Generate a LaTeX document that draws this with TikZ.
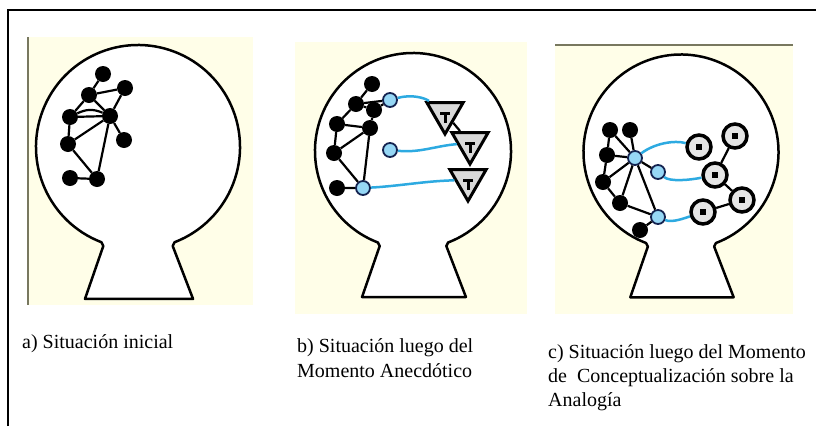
\documentclass[tikz,border=0pt]{standalone}
\usepackage{fontspec}
\setmainfont{Liberation Serif}
\definecolor{cream}{RGB}{255,254,232}
\definecolor{linkblue}{RGB}{45,170,225}
\definecolor{ballblue}{RGB}{150,215,245}
\definecolor{inkblue}{RGB}{20,35,80}
\definecolor{edgegray}{RGB}{120,120,95}
\usepackage{tikz}
\usetikzlibrary{positioning}
\usetikzlibrary{shapes}
\tikzset{
  bulb/.style={draw, line width=2.5pt, fill=white, line join=round},
  dot/.style={circle, fill=black, inner sep=0, minimum size=16pt},
  ball/.style={circle, draw=inkblue, fill=ballblue, line width=1.8pt,
    inner sep=0, minimum size=14pt},
  tri/.style={regular polygon, regular polygon sides=3, shape border rotate=180,
    draw, line width=3pt, fill=gray!30, inner sep=0, minimum size=42pt,
    path picture={
      \fill[black] ([shift={(-5pt,3pt)}]path picture bounding box.center) rectangle ++(10pt,3pt);
      \fill[black] ([shift={(-1.5pt,-5pt)}]path picture bounding box.center) rectangle ++(3pt,8pt);
    }},
  ring/.style={circle, draw, line width=3.5pt, fill=gray!20, inner sep=0, minimum size=24pt,
    path picture={
      \fill[black] ([shift={(-3pt,-3pt)}]path picture bounding box.center) rectangle ++(6pt,6pt);
    }},
  link/.style={line width=2.2pt},
  bluelink/.style={line width=2.5pt, linkblue},
  caption/.style={anchor=base west, inner sep=0, align=left,
    font=\fontsize{20}{25}\selectfont}
}
\newcommand\bulbat[3]{%
  \begin{scope}[shift={(#1,#2)}, scale=#3]
    \draw[bulb] (111:100) arc[start angle=111, end angle=429, radius=100]
      -- (34,97) -- (54,149) -- (-52,149) -- (-34,97) -- cycle;
  \end{scope}}

\begin{document}
\begin{tikzpicture}[x=1pt, y=-1pt]
  \useasboundingbox (0,0) rectangle (816,426);
  \draw[line width=1.5pt] (8,426) -- (8,10) -- (816,10);

  \fill[cream] (28,37) rectangle (253,305);
  \fill[cream] (295,42) rectangle (527,314);
  \fill[cream] (555,45) rectangle (793,314);
  \draw[edgegray, line width=1.5pt] (28,37) -- (28,305);
  \draw[edgegray, line width=2pt] (555,45) -- (793,45);

  \bulbat{138}{147}{1.02}
  \bulbat{413}{151}{0.98}
  \bulbat{681}{152}{0.975}

  % a) Situacion inicial
  \node[dot] (a1) at (103,74) {};
  \node[dot] (a2) at (125,88) {};
  \node[dot] (a3) at (89,95) {};
  \node[dot] (a4) at (70,117) {};
  \node[dot] (a5) at (110,116) {};
  \node[dot] (a6) at (124,140) {};
  \node[dot] (a7) at (68,144) {};
  \node[dot] (a8) at (70,178) {};
  \node[dot] (a9) at (97,179) {};
  \draw[link] (a1) -- (a3) (a3) -- (a2) (a2) -- (a5) (a3) -- (a5) (a3) -- (a4)
    (a4) to[bend left=25] (a5) (a4) -- (a5) (a4) -- (a7) (a7) -- (a5)
    (a5) -- (a6) (a5) -- (a9) (a7) -- (a9) (a8) -- (a9);

  % b) Momento Anecdotico
  \node[dot] (b1) at (372,84) {};
  \node[dot] (b2) at (356,104) {};
  \node[dot] (b3) at (374,110) {};
  \node[dot] (b4) at (337,124) {};
  \node[dot] (b5) at (370,128) {};
  \node[dot] (b6) at (334,153) {};
  \node[dot] (b7) at (337,188) {};
  \node[ball] (bl1) at (390,100) {};
  \node[ball] (bl2) at (390,150) {};
  \node[ball] (bl3) at (363,188) {};
  \node[tri] (t1) at (445,113) {};
  \node[tri] (t2) at (470,143) {};
  \node[tri] (t3) at (468,180) {};
  \draw[link] (b1) -- (b2) (b2) -- (bl1) (b3) -- (bl1) (b2) -- (b3) (b2) -- (b4)
    (b4) -- (b5) (b3) -- (b5) (b4) -- (b6) (b5) -- (b6) (b5) -- (bl3)
    (b6) -- (bl3) (b7) -- (bl3) (t1) -- (t2);
  \draw[bluelink] (bl1) .. controls (412,94) and (425,98) .. (t1);
  \draw[bluelink] (bl2) .. controls (420,153) and (435,146) .. (t2);
  \draw[bluelink] (bl3) .. controls (400,186) and (425,181) .. (t3);

  % c) Momento de Conceptualizacion
  \node[dot] (c1) at (610,130) {};
  \node[dot] (c2) at (630,130) {};
  \node[dot] (c3) at (607,155) {};
  \node[dot] (c4) at (603,182) {};
  \node[dot] (c5) at (620,203) {};
  \node[dot] (c6) at (640,230) {};
  \node[ball] (cl1) at (635,158) {};
  \node[ball] (cl2) at (658,172) {};
  \node[ball] (cl3) at (658,217) {};
  \node[ring] (r1) at (699,147) {};
  \node[ring] (r2) at (735,136) {};
  \node[ring] (r3) at (715,175) {};
  \node[ring] (r4) at (742,200) {};
  \node[ring] (r5) at (703,212) {};
  \draw[link] (cl1) -- (c1) (cl1) -- (c2) (cl1) -- (c3) (cl1) -- (c4) (cl1) -- (c5)
    (c1) -- (c3) (c3) -- (c4) (c4) -- (c5) (c5) -- (cl3) (cl1) -- (cl3)
    (cl1) -- (cl2) (c6) -- (cl3) (r2) -- (r3) (r3) -- (r4) (r4) -- (r5);
  \draw[bluelink] (cl1) .. controls (655,143) and (675,140) .. (r1);
  \draw[bluelink] (cl2) .. controls (670,182) and (690,180) .. (r3);
  \draw[bluelink] (cl3) .. controls (672,223) and (685,218) .. (r5);

  \node[caption] (capa) at (22,348) {a) Situación inicial};
  \node[caption] (capb) at (297,377) {b) Situación luego del\\Momento Anecdótico};
  \node[caption, font=\fontsize{20}{24}\selectfont] (capc) at (548,406)
    {c) Situación luego del Momento\\de~~Conceptualización sobre la\\Analogía};
\end{tikzpicture}
\end{document}
